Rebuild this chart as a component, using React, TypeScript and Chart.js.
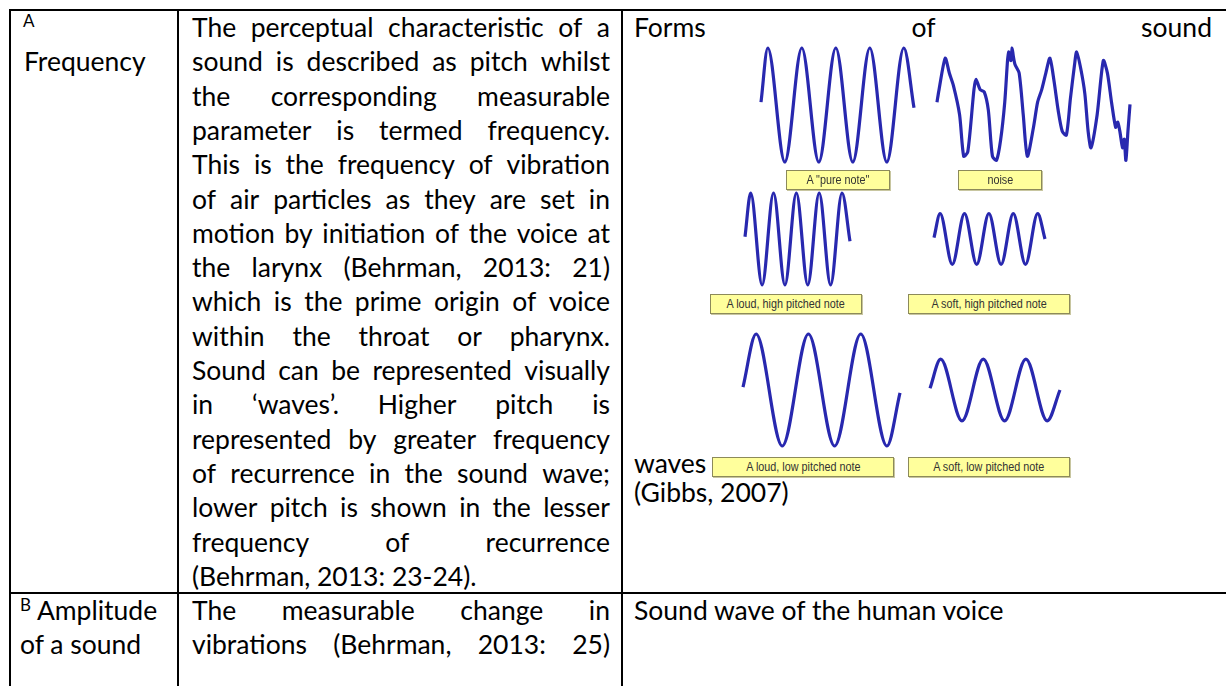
import React, { useEffect, useRef } from "react";
import { Chart, registerables } from "chart.js";
Chart.register(...registerables);

// ---------- data ----------
// time axis in half-periods, amplitude in "loud" units
const pureNoteT = [-0.4, 0, 1, 2, 3, 4, 5, 6, 7, 8, 8.6];
const pureNoteY = [0.05, 1, -1, 1, -1, 1, -1, 1, -1, 1, -0.05];

const noiseT = [0, 5, 20, 30, 40, 55, 65, 75, 90, 95, 105, 115, 125, 135, 145, 155, 165, 172, 175, 180, 183, 186, 190, 200, 210, 220, 235, 245, 255, 265, 275, 285, 295, 305, 315, 325, 335, 340, 350, 360, 368, 375, 390, 405, 415, 425, 435, 440, 445, 452, 456, 460, 465, 470];
const noiseY = [0.05, 0.27, 0.82, 0.56, 0.34, -0.17, -0.9, -0.82, 0.27, 0.45, 0.27, 0.23, -0.09, -0.9, -0.97, -0.61, 0.05, 0.8, 0.93, 0.78, 1.0, 0.85, 0.71, 0.56, -0.17, -0.9, -0.39, 0.05, 0.27, 0.56, 0.82, 0.42, -0.09, -0.46, -0.53, 0.12, 0.71, 0.93, 0.64, 0.2, -0.46, -0.75, -0.17, 0.78, 0.56, 0.05, -0.39, -0.3, -0.45, -0.75, -0.6, -0.97, -0.46, 0.01];

const loudHighT = [-0.5, 0, 1, 2, 3, 4, 5, 6, 7, 8, 8.7];
const loudHighY = [0.05, 1, -1, 1, -1, 1, -1, 1, -1, 1, -0.05];

const softHighT = [-0.5, 0, 1, 2, 3, 4, 5, 6, 7, 8, 8.6];
const softHighY = [0.03, 0.55, -0.55, 0.55, -0.55, 0.55, -0.55, 0.55, -0.55, 0.55, 0.0];

const loudLowT = [-0.5, 0, 1, 2, 3, 4, 5, 5.5];
const loudLowY = [0.05, 1, -1, 1, -1, 1, -1, -0.05];

const softLowT = [-0.5, 0, 1, 2, 3, 4, 5, 5.6];
const softLowY = [0.03, 0.55, -0.55, 0.55, -0.55, 0.55, -0.55, 0.0];

const waveLabels = [
  'A "pure note"',
  "noise",
  "A loud, high pitched note",
  "A soft, high pitched note",
  "A loud, low pitched note",
  "A soft, low pitched note",
];

const col2LinesA = [
  "The perceptual characteristic of a",
  "sound is described as pitch whilst",
  "the corresponding measurable",
  "parameter is termed frequency.",
  "This is the frequency of vibration",
  "of air particles as they are set in",
  "motion by initiation of the voice at",
  "the larynx (Behrman, 2013: 21)",
  "which is the prime origin of voice",
  "within the throat or pharynx.",
  "Sound can be represented visually",
  "in \u2018waves\u2019. Higher pitch is",
  "represented by greater frequency",
  "of recurrence in the sound wave;",
  "lower pitch is shown in the lesser",
  "frequency of recurrence",
  "(Behrman, 2013: 23-24).",
];
const col2LinesB = ["The measurable change in", "vibrations (Behrman, 2013: 25)"];

// ---------- layout ----------
const FONT = "Lato, 'Open Sans', sans-serif";
const FS = 26.5;
const LH = 34.3;
const TOP = 10;
const ROW_DIV = 592;
const C1 = 9, C2 = 177, C3 = 621, CR = 1228;

type WaveSpec = {
  t: number[];
  y: number[];
  left: number;
  right: number;
  top: number;
  bottom: number;
  tension?: number;
  mono?: boolean;
};

const WaveChart: React.FC<{ spec: WaveSpec }> = ({ spec }) => {
  const ref = useRef<HTMLCanvasElement>(null);
  const pad = 4;
  const w = spec.right - spec.left + 2 * pad;
  const h = spec.bottom - spec.top + 2 * pad;
  useEffect(() => {
    if (!ref.current) return;
    const pts = spec.t.map((t, i) => ({ x: t, y: spec.y[i] }));
    const chart = new Chart(ref.current, {
      type: "line",
      data: {
        datasets: [
          {
            data: pts,
            borderColor: "rgb(40,40,175)",
            borderWidth: 3.2,
            pointRadius: 0,
            fill: false,
            cubicInterpolationMode: spec.mono ? "monotone" : "default",
            tension: spec.tension ?? 0.4,
            clip: false as any,
          },
        ],
      },
      options: {
        animation: false,
        responsive: false,
        maintainAspectRatio: false,
        layout: { padding: pad },
        events: [],
        plugins: { legend: { display: false }, tooltip: { enabled: false } },
        scales: {
          x: { type: "linear", display: false, min: Math.min(...spec.t), max: Math.max(...spec.t) },
          y: { type: "linear", display: false, min: -1, max: 1 },
        },
      },
    });
    return () => chart.destroy();
  }, []);
  return (
    <canvas
      ref={ref}
      width={w}
      height={h}
      style={{ position: "absolute", left: spec.left - pad, top: spec.top - pad, width: w, height: h }}
    />
  );
};

const Label: React.FC<{ text: string; left: number; right: number; top: number; bottom: number }> = (p) => (
  <div
    style={{
      position: "absolute",
      left: p.left,
      top: p.top,
      width: p.right - p.left,
      height: p.bottom - p.top,
      boxSizing: "border-box",
      background: "#ffff9c",
      border: "1px solid #8c8a5a",
      boxShadow: "1px 1px 0 #c8c6a0",
      fontFamily: "'Liberation Sans', Arial, sans-serif",
      fontSize: 12,
      color: "#333",
      textAlign: "center",
      lineHeight: `${p.bottom - p.top - 2}px`,
      whiteSpace: "nowrap",
      overflow: "hidden",
    }}
  >
    <span style={{ display: "inline-block", transform: "scaleX(0.9)" }}>{p.text}</span>
  </div>
);

const JLine: React.FC<{ text: string; left: number; width: number; top: number; justify: boolean }> = (p) => {
  const base: React.CSSProperties = {
    position: "absolute",
    left: p.left,
    top: p.top,
    width: p.width,
    height: LH,
    lineHeight: `${LH}px`,
    fontFamily: FONT,
    fontSize: FS,
    color: "#000",
    whiteSpace: "nowrap",
  };
  if (!p.justify) return <div style={base}>{p.text}</div>;
  const words = p.text.split(" ");
  return (
    <div style={{ ...base, display: "flex", justifyContent: "space-between" }}>
      {words.map((w, i) => (
        <span key={i}>{w}</span>
      ))}
    </div>
  );
};

const Rule: React.FC<{ x: number; y: number; w: number; h: number }> = ({ x, y, w, h }) => (
  <div style={{ position: "absolute", left: x, top: y, width: w, height: h, background: "#000" }} />
);

export default function App() {
  const waves: WaveSpec[] = [
    { t: pureNoteT, y: pureNoteY, left: 761, right: 914, top: 48, bottom: 162, mono: true },
    { t: noiseT, y: noiseY, left: 937, right: 1130, top: 48, bottom: 162, tension: 0.25 },
    { t: loudHighT, y: loudHighY, left: 745, right: 850, top: 193, bottom: 285, mono: true },
    { t: softHighT, y: softHighY, left: 934, right: 1045, top: 193, bottom: 285, mono: true },
    { t: loudLowT, y: loudLowY, left: 743, right: 900, top: 334, bottom: 446, mono: true },
    { t: softLowT, y: softLowY, left: 930, right: 1060, top: 334, bottom: 446, mono: true },
  ];
  const labelBoxes = [
    { left: 786, right: 890, top: 170, bottom: 190 },
    { left: 958, right: 1042, top: 170, bottom: 190 },
    { left: 710, right: 862, top: 294, bottom: 314 },
    { left: 908, right: 1070, top: 294, bottom: 314 },
    { left: 712, right: 894, top: 457, bottom: 477 },
    { left: 908, right: 1070, top: 457, bottom: 477 },
  ];

  const c2x = 192, c2w = 418;
  const c3x = 634, c3w = 578;
  const rowB = ROW_DIV + 1;

  return (
    <div style={{ position: "absolute", left: 0, top: 0, width: 1226, height: 686, overflow: "hidden", background: "#fff" }}>
      {/* borders */}
      <Rule x={C1} y={9} w={CR - C1} h={2} />
      <Rule x={C1} y={9} w={2} h={700} />
      <Rule x={C2} y={9} w={2} h={700} />
      <Rule x={C3} y={9} w={2} h={700} />
      <Rule x={C1} y={ROW_DIV} w={CR - C1} h={2} />

      {/* column 1 */}
      <div style={{ position: "absolute", left: 23, top: TOP, lineHeight: `${LH}px`, fontFamily: FONT, fontSize: 17 }}>
        <span style={{ position: "relative", top: -6 }}>A</span>
      </div>
      <JLine text="Frequency" left={24} width={150} top={TOP + LH} justify={false} />
      <div style={{ position: "absolute", left: 20, top: rowB, height: LH, lineHeight: `${LH}px`, fontFamily: FONT, fontSize: FS, whiteSpace: "nowrap" }}>
        <span style={{ fontSize: 17, position: "relative", top: -9 }}>B</span>
        <span> Amplitude</span>
      </div>
      <JLine text="of a sound" left={20} width={150} top={rowB + LH} justify={false} />

      {/* column 2 */}
      {col2LinesA.map((l, i) => (
        <JLine key={"a" + i} text={l} left={c2x} width={c2w} top={TOP + i * LH} justify={i < col2LinesA.length - 1} />
      ))}
      {col2LinesB.map((l, i) => (
        <JLine key={"b" + i} text={l} left={c2x} width={c2w} top={rowB + i * LH} justify={true} />
      ))}

      {/* column 3 */}
      <JLine text="Forms of sound" left={c3x} width={c3w} top={TOP} justify={true} />
      <JLine text="waves" left={c3x} width={80} top={446} justify={false} />
      <JLine text="(Gibbs, 2007)" left={c3x} width={300} top={475} justify={false} />
      <JLine text="Sound wave of the human voice" left={c3x} width={c3w} top={rowB} justify={false} />

      {waves.map((s, i) => (
        <WaveChart key={"w" + i} spec={s} />
      ))}
      {labelBoxes.map((b, i) => (
        <Label key={"l" + i} text={waveLabels[i]} {...b} />
      ))}
    </div>
  );
}
